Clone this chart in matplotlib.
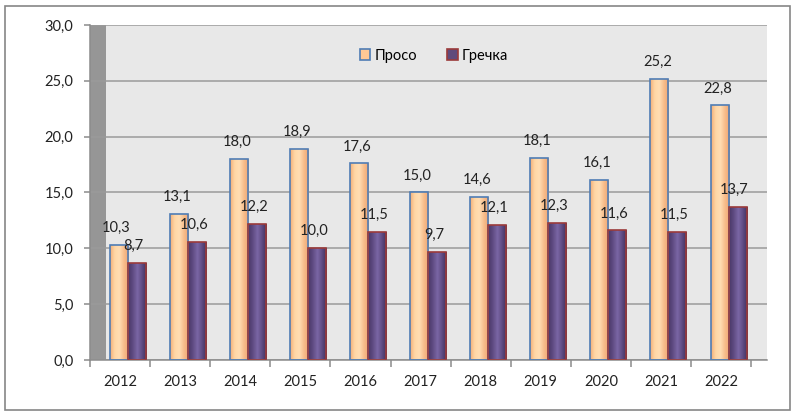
import numpy as np
import matplotlib
matplotlib.use("Agg")
import matplotlib.pyplot as plt
from matplotlib.patches import Rectangle, Patch
from matplotlib.colors import LinearSegmentedColormap

years = ["2012", "2013", "2014", "2015", "2016", "2017", "2018", "2019", "2020", "2021", "2022"]
proso = [10.3, 13.1, 18.0, 18.9, 17.6, 15.0, 14.6, 18.1, 16.1, 25.2, 22.8]
grechka = [8.7, 10.6, 12.2, 10.0, 11.5, 9.7, 12.1, 12.3, 11.6, 11.5, 13.7]
series_names = ["Просо", "Гречка"]

plt.rcParams['font.family'] = ['Lato', 'DejaVu Sans']
FS = 10.5

W, H = 795, 415
fig = plt.figure(figsize=(W / 100, H / 100), dpi=100)
fig.patch.set_facecolor("white")

# outer frame
fig.add_artist(Rectangle((5 / W, 5 / H), 785 / W, 404 / H, transform=fig.transFigure,
                         fill=False, edgecolor="#868686", lw=1.2))

L, R, T, B = 90, 767, 25, 360
ax = fig.add_axes([L / W, (H - B) / H, (R - L) / W, (B - T) / H])
ax.set_facecolor("#E8E8E8")
n = len(years)
cat_px = 60.1
xmax = (R - L) / cat_px
ax.set_xlim(0, xmax)
ax.set_ylim(0, 30)

# side wall
ax.add_patch(Rectangle((0, 0), 16 / cat_px, 30, facecolor="#969696", edgecolor="none", zorder=0.5))

ax.set_yticks(np.arange(0, 31, 5))
ax.set_yticklabels([f"{v:.1f}".replace(".", ",") for v in np.arange(0, 31, 5)])
ax.yaxis.grid(True, color="#9A9A9A", lw=1.1)
ax.set_axisbelow(True)

ax.set_xticks(np.arange(n) + 0.5)
ax.set_xticklabels(years)
ax.set_xticks(np.arange(n + 1), minor=True)
ax.tick_params(axis="x", which="major", length=0, pad=11, labelsize=FS, colors="#222222")
ax.tick_params(axis="x", which="minor", length=5, color="#8C8C8C", width=1.1)
ax.tick_params(axis="y", length=4, color="#8C8C8C", width=1.1, pad=8, labelsize=FS, labelcolor="#222222")
for s in ["top", "right"]:
    ax.spines[s].set_visible(False)
for s in ["left", "bottom"]:
    ax.spines[s].set_color("#8C8C8C")
    ax.spines[s].set_linewidth(1.1)

x = np.arange(n)
bw = 0.3
c1 = x + 0.475
c2 = x + 0.775

cm_or = LinearSegmentedColormap.from_list("o", ["#F2AE78", "#FFD7A6", "#FFDDB3", "#F7BC8A", "#EFA674"])
cm_pu = LinearSegmentedColormap.from_list("p", ["#4A3868", "#5F4B82", "#7B67A5", "#5E4A82", "#3F2F5C"])
grad = np.linspace(0, 1, 64).reshape(1, -1)

b1 = ax.bar(c1, proso, width=bw, facecolor="none", edgecolor="#4F7DB5", lw=1.2, zorder=3, label=series_names[0])
b2 = ax.bar(c2, grechka, width=bw, facecolor="none", edgecolor="#9B3A3A", lw=1.2, zorder=3, label=series_names[1])
for bars, cm in ((b1, cm_or), (b2, cm_pu)):
    for p in bars:
        x0, w, h = p.get_x(), p.get_width(), p.get_height()
        im = ax.imshow(grad, cmap=cm, aspect="auto", extent=(x0, x0 + w, 0, h), zorder=2.5, interpolation="bilinear")
        im.set_clip_path(p)

for xc, v in zip(c1, proso):
    ax.annotate(f"{v:.1f}".replace(".", ","), (xc, v), xytext=(-2, 10), textcoords="offset pixels",
                ha="center", va="bottom", fontsize=FS, color="#222222", zorder=5)
for xc, v in zip(c2, grechka):
    ax.annotate(f"{v:.1f}".replace(".", ","), (xc, v), xytext=(-3, 10), textcoords="offset pixels",
                ha="center", va="bottom", fontsize=FS, color="#222222", zorder=5)

ax.set_xlim(0, xmax)
ax.set_ylim(0, 30)

handles = [Patch(facecolor="#FFC895", edgecolor="#4F7DB5", lw=1.2),
           Patch(facecolor="#604A7B", edgecolor="#9B3A3A", lw=1.2)]
ax.legend(handles, series_names, loc="upper center", bbox_to_anchor=(0.508, 0.968), ncol=2, frameon=False,
          fontsize=FS, handlelength=0.75, handleheight=0.75, handletextpad=0.3, columnspacing=2.0)

fig.savefig("out.png", dpi=100)
